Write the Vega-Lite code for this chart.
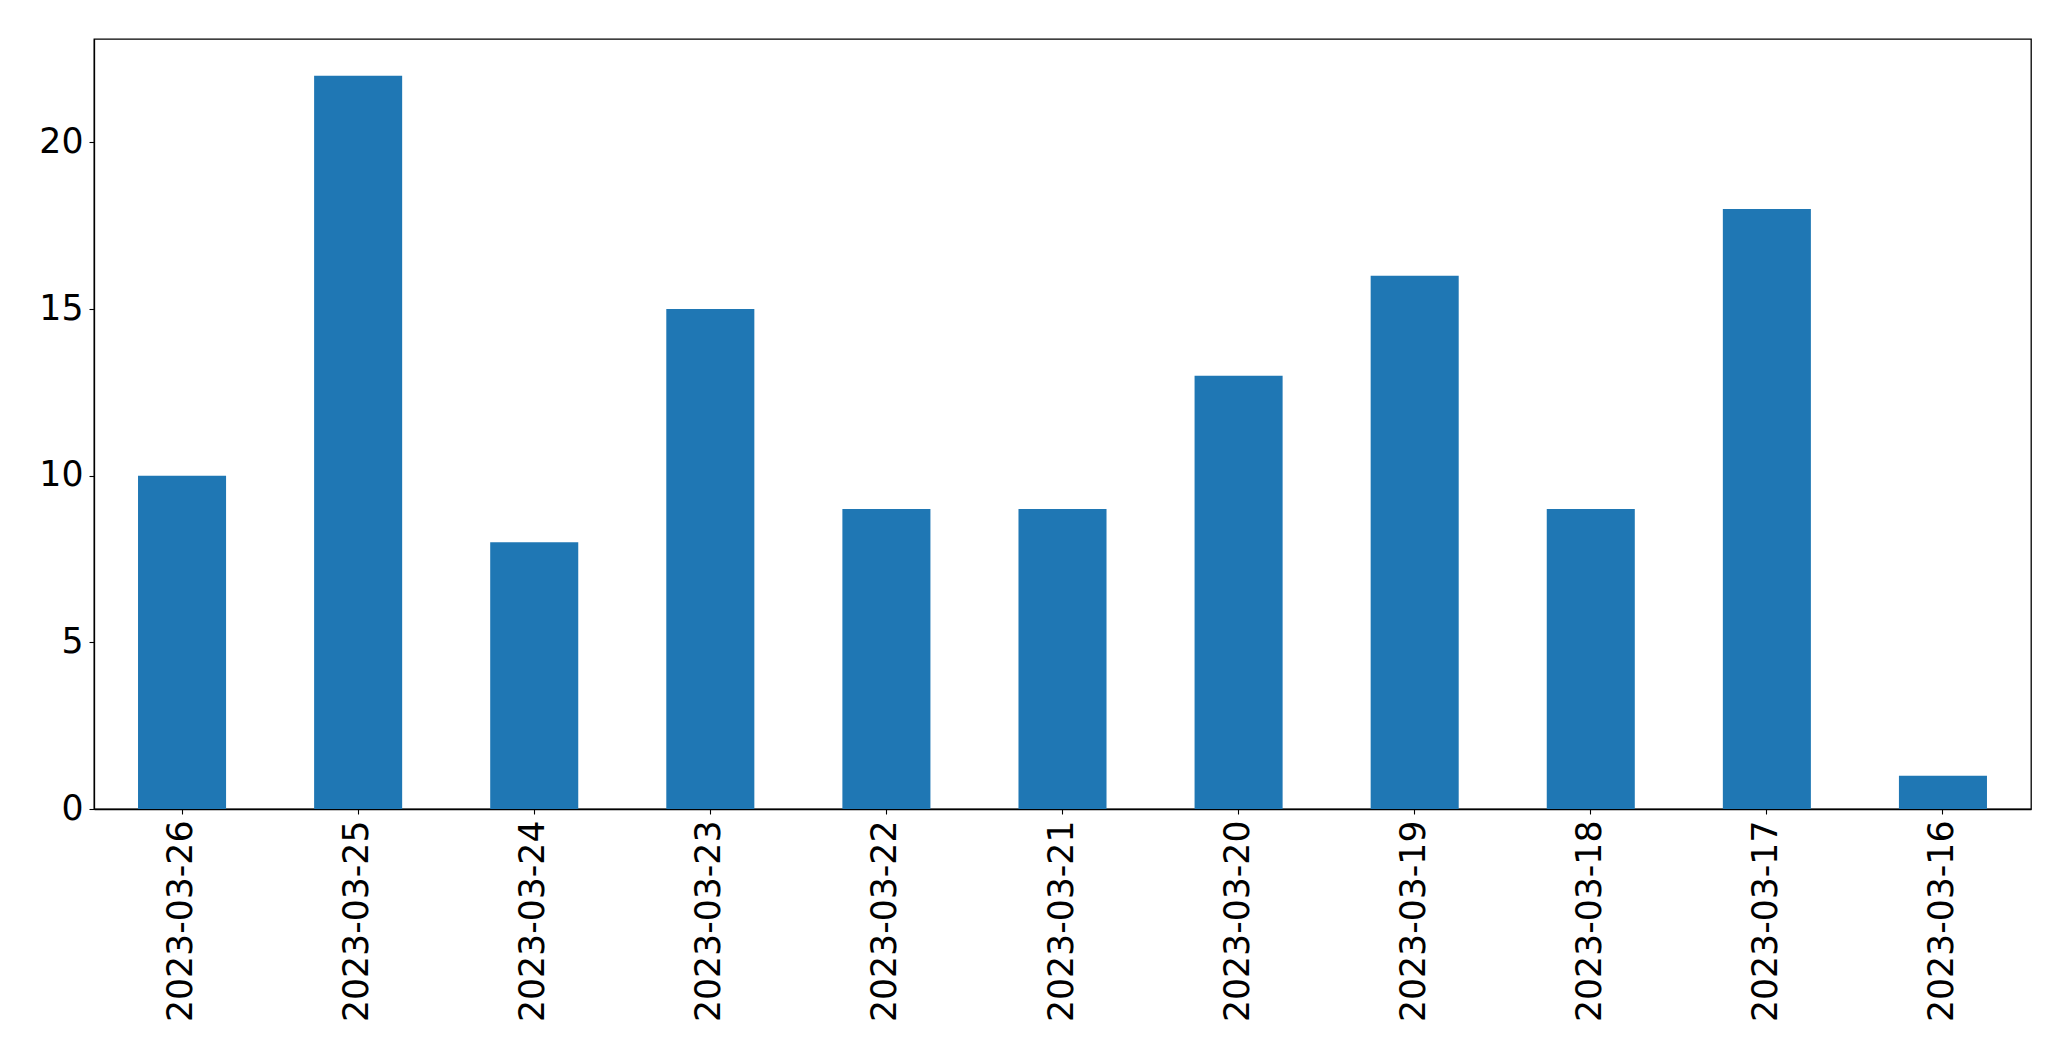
{
  "$schema": "https://vega.github.io/schema/vega-lite/v6.json",
  "width": 1937,
  "height": 770,
  "autosize": {"type": "none"},
  "padding": {"left": 94, "top": 39, "right": 40, "bottom": 252},
  "background": "white",
  "config": {
    "view": {"stroke": "#000000", "strokeWidth": 1.3},
    "font": "DejaVu Sans"
  },
  "data": {
    "values": [
      {"date": "2023-03-26", "count": 10},
      {"date": "2023-03-25", "count": 22},
      {"date": "2023-03-24", "count": 8},
      {"date": "2023-03-23", "count": 15},
      {"date": "2023-03-22", "count": 9},
      {"date": "2023-03-21", "count": 9},
      {"date": "2023-03-20", "count": 13},
      {"date": "2023-03-19", "count": 16},
      {"date": "2023-03-18", "count": 9},
      {"date": "2023-03-17", "count": 18},
      {"date": "2023-03-16", "count": 1}
    ]
  },
  "mark": {"type": "bar", "color": "#1f77b4"},
  "encoding": {
    "x": {
      "field": "date",
      "type": "nominal",
      "sort": null,
      "scale": {"paddingInner": 0.5, "paddingOuter": 0.25},
      "axis": {
        "title": null,
        "labelAngle": -90,
        "labelAlign": "right",
        "labelBaseline": "middle",
        "labelFont": "DejaVu Sans",
        "labelFontSize": 34.7,
        "labelLimit": 0,
        "labelColor": "#000000",
        "labelPadding": 6,
        "tickColor": "#000000",
        "tickSize": 5,
        "tickWidth": 1.1,
        "domainColor": "#000000",
        "domainWidth": 1.3,
        "grid": false
      }
    },
    "y": {
      "field": "count",
      "type": "quantitative",
      "scale": {"domain": [0, 23.1], "nice": false, "zero": true},
      "axis": {
        "title": null,
        "values": [0, 5, 10, 15, 20],
        "labelFont": "DejaVu Sans",
        "labelFontSize": 34.7,
        "labelColor": "#000000",
        "labelPadding": 6,
        "tickColor": "#000000",
        "tickSize": 5,
        "tickWidth": 1.1,
        "domainColor": "#000000",
        "domainWidth": 1.3,
        "grid": false
      }
    }
  }
}
